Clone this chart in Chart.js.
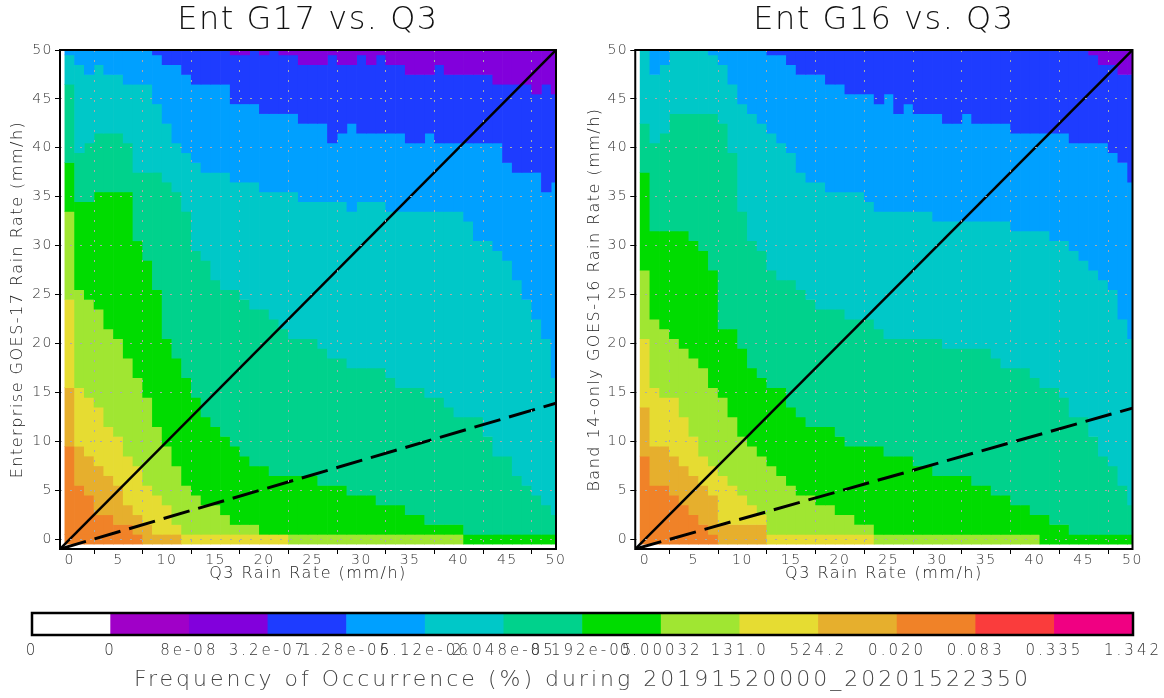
<!DOCTYPE html>
<html>
<head>
<meta charset="utf-8">
<script src="https://cdn.jsdelivr.net/npm/chart.js@4.4.1/dist/chart.umd.min.js"></script>
<style>
  body { margin: 0; background: #fff; }
  #wrap { position: relative; width: 1164px; height: 698px; overflow: hidden; }
  canvas { position: absolute; }
</style>
</head>
<body>
<div id="wrap">
  <canvas id="g17" width="590" height="600" style="left:0;top:0;width:590px;height:600px"></canvas>
  <canvas id="g16" width="584" height="600" style="left:580px;top:0;width:584px;height:600px"></canvas>
  <canvas id="cbar" width="1164" height="98" style="left:0;top:600px;width:1164px;height:98px"></canvas>
</div>
<script>
// colour levels of the shaded field (index = level)
const levelColors = ['#ffffff', '#a000c8', '#8200dc', '#1e3cff', '#00a0ff', '#00c8c8',
                     '#00d28c', '#00dc00', '#a0e632', '#e6dc32', '#e6af2d', '#f08228', '#fa3c3c', '#f00082'];
const colorbarLabels = ['0', '0', '8e-08', '3.2e-07', '1.28e-06', '5.12e-06', '2.048e-05', '8.192e-05',
                        '0.00032', '131.0', '524.2', '0.020', '0.083', '0.335', '1.342'];

const q3Bins = [0,1,2,3,4,5,6,7,8,9,10,11,12,13,14,15,16,17,18,19,20,21,22,23,24,25,
                26,27,28,29,30,31,32,33,34,35,36,37,38,39,40,41,42,43,44,45,46,47,48,49,50];
const axisTicks = [0, 5, 10, 15, 20, 25, 30, 35, 40, 45, 50];

// top row (mm/h) reached by each colour or any warmer one, per Q3 column (rows 1..50)
// --- Ent G17 ---
const g17BlueTop   = [50,50,50,50,50,50,50,50,50,50, 50,50,50,50,50,50,50,49,49,50, 49,50,49,49,48,48,48,49,48,48, 49,48,49,48,48,47,47,47,48,47, 47,47,47,47,46,46,46,46,45,46, 45];
const g17SkyTop    = [50,50,50,50,50,50,50,50,50,49, 48,48,47,46,46,46,46,44,44,44, 43,43,43,43,42,42,42,40,41,42, 41,41,41,41,41,40,40,41,40,40, 40,40,40,40,40,38,37,37,37,35, 36];
const g17CyanTop   = [49,48,47,48,47,47,46,46,46,44, 42,40,39,38,37,37,37,36,36,36, 35,35,35,35,34,34,34,34,34,33, 34,34,34,33,33,33,33,33,33,33, 33,32,30,30,29,28,26,24,22,20, 16];
const g17SeaTop    = [46,39,40,41,41,41,40,37,37,37, 36,35,33,29,28,26,25,25,24,23, 23,22,21,20,20,20,19,18,18,17, 17,17,17,16,15,15,15,14,14,13, 12,12,12,10,8,8,6,5,4,3, 2];
const g17GreenTop  = [38,34,34,35,35,35,35,30,28,25, 20,18,16,14,12,11,10,9,8,7, 7,6,6,6,6,6,5,5,5,4, 4,4,3,3,3,2,2,1,1,1, 1,0,0,0,0,0,0,0,0,0, 0];
const g17LimeTop   = [33,25,24,23,21,20,18,16,14,11, 9,7,5,4,3,3,2,1,1,1, 0,0,0,0,0,0,0,0,0,0, 0,0,0,0,0,0,0,0,0,0, 0,0,0,0,0,0,0,0,0,0, 0];
const g17YellowTop = [24,15,14,13,11,10,8,7,5,4, 3,1,0,0,0,0,0,0,0,0, 0,0,0,0,0,0,0,0,0,0, 0,0,0,0,0,0,0,0,0,0, 0,0,0,0,0,0,0,0,0,0, 0];
const g17GoldTop   = [15,9,8,7,6,5,3,2,1,0, 0,0,0,0,0,0,0,0,0,0, 0,0,0,0,0,0,0,0,0,0, 0,0,0,0,0,0,0,0,0,0, 0,0,0,0,0,0,0,0,0,0, 0];
const g17OrangeTop = [9,5,4,2,2,1,1,0,0,0, 0,0,0,0,0,0,0,0,0,0, 0,0,0,0,0,0,0,0,0,0, 0,0,0,0,0,0,0,0,0,0, 0,0,0,0,0,0,0,0,0,0, 0];
const g17ZeroRow   = [11,11,11,11,11,11,11,11,10,10, 10,10,9,9,9,9,9,9,9,9, 9,9,9,8,8,8,8,8,8,8, 8,8,8,8,8,8,8,8,8,8, 8,7,7,7,7,7,7,7,7,7, 7];

// --- Ent G16 ---
const g16BlueTop   = [50,50,50,50,50,50,50,50,50,50, 50,50,50,50,50,50,50,50,50,50, 50,50,50,50,50,50,50,50,50,50, 50,50,50,50,50,50,50,50,50,50, 50,50,50,50,50,50,49,48,48,47, 47];
const g16SkyTop    = [50,50,50,50,50,50,50,50,50,50, 50,50,50,49,49,48,47,47,47,46, 46,45,45,45,44,45,43,44,43,43, 43,42,42,43,42,42,42,42,41,41, 41,41,41,41,40,40,40,40,39,38, 36];
const g16CyanTop   = [50,47,48,50,50,50,50,49,48,46, 44,43,42,41,40,39,37,36,36,35, 35,35,35,34,33,33,33,33,33,33, 32,32,32,32,32,32,32,32,31,31, 31,31,30,30,29,28,27,26,25,22, 20];
const g16SeaTop    = [42,40,41,43,43,43,43,43,42,39, 33,30,29,27,26,26,25,24,23,23, 23,22,22,22,21,20,20,20,20,20, 20,19,19,19,19,19,18,17,17,17, 16,15,15,14,12,12,10,8,7,5, 3];
const g16GreenTop  = [37,31,31,31,31,30,29,27,21,21, 19,17,16,15,15,13,12,11,11,11, 10,9,9,9,9,8,8,8,7,7, 6,6,6,6,5,5,4,4,3,3, 2,2,1,1,0,0,0,0,0,0, 0];
const g16LimeTop   = [27,22,21,20,19,18,17,15,14,12, 10,9,8,7,6,5,4,4,3,3, 2,2,1,1,0,0,0,0,0,0, 0,0,0,0,0,0,0,0,0,0, 0,0,0,0,0,0,0,0,0,0, 0];
const g16YellowTop = [20,15,14,14,12,10,8,7,6,5, 4,3,2,0,0,0,0,0,0,0, 0,0,0,0,0,0,0,0,0,0, 0,0,0,0,0,0,0,0,0,0, 0,0,0,0,0,0,0,0,0,0, 0];
const g16GoldTop   = [13,9,9,8,7,6,5,4,1,1, 1,1,1,0,0,0,0,0,0,0, 0,0,0,0,0,0,0,0,0,0, 0,0,0,0,0,0,0,0,0,0, 0,0,0,0,0,0,0,0,0,0, 0];
const g16OrangeTop = [8,5,5,4,3,2,1,0,0,0, 0,0,0,0,0,0,0,0,0,0, 0,0,0,0,0,0,0,0,0,0, 0,0,0,0,0,0,0,0,0,0, 0,0,0,0,0,0,0,0,0,0, 0];
const g16ZeroRow   = [11,11,11,11,11,11,11,11,10,10, 10,10,10,9,9,9,9,9,9,9, 9,9,9,9,8,8,8,8,8,8, 8,8,8,8,8,8,8,8,8,8, 8,7,7,7,7,7,7,7,7,7, 7];

// reference lines
const lineX = [-1, 50];
const oneToOneY = [-1, 50];
const g17FitY = [-1, 13.9];
const g16FitY = [-1, 13.4];

Chart.defaults.font.family = "'DejaVu Sans', sans-serif";
Chart.defaults.font.weight = '300';
Chart.defaults.color = '#333';

const spacing = {
    id: 'spacing',
    beforeUpdate(chart, args, opts) { chart.ctx.letterSpacing = opts.px || '0px'; },
    beforeDraw(chart, args, opts) { chart.ctx.letterSpacing = opts.px || '0px'; }
};

const frame = {
    id: 'frame',
    afterDraw(chart, args, opts) {
        const {ctx, chartArea: a} = chart;
        ctx.save();
        ctx.strokeStyle = '#000';
        ctx.lineWidth = opts.width || 2;
        ctx.strokeRect(a.left, a.top, a.right - a.left, a.bottom - a.top);
        ctx.restore();
    }
};

function heatDatasets(tops, zeroRow) {
    const sets = [];
    // level 2 (violet) at the top down to level 11 (orange) near the origin
    for (let k = 2; k <= 11; k++) {
        const upper = k === 2 ? null : tops[k - 3];
        const lower = k === 11 ? null : tops[k - 2];
        const data = [];
        q3Bins.forEach((x, i) => {
            const hi = (upper ? upper[i] : 50) + 0.5;
            const lo = (lower ? lower[i] : 0) + 0.5;
            if (hi > lo) data.push({x: x, y: [lo, hi]});
        });
        sets.push({
            type: 'bar', data: data, backgroundColor: levelColors[k],
            borderWidth: 0, grouped: false, barPercentage: 1, categoryPercentage: 1, order: 2
        });
    }
    sets.push({
        type: 'bar',
        data: q3Bins.map(x => ({x: x, y: [-0.5, 0.5]})),
        backgroundColor: zeroRow.map(l => levelColors[l]),
        borderWidth: 0, grouped: false, barPercentage: 1, categoryPercentage: 1, order: 2
    });
    return sets;
}

function lineSet(ys, dash) {
    return {
        type: 'line',
        data: lineX.map((x, i) => ({x: x, y: ys[i]})),
        borderColor: '#000', borderWidth: dash ? 3 : 2.5, borderDash: dash || [],
        pointRadius: 0, fill: false, order: 0
    };
}

function heatChart(id, title, yTitle, tops, zeroRow, fitY, yWidth, rightPad, yTitlePad) {
    const ctx = document.getElementById(id);
    return new Chart(ctx, {
        type: 'bar',
        data: {
            datasets: [lineSet(oneToOneY), lineSet(fitY, [27, 9])].concat(heatDatasets(tops, zeroRow))
        },
        options: {
            responsive: false,
            animation: false,
            devicePixelRatio: 1,
            events: [],
            layout: { padding: { left: 0, right: rightPad, top: 0, bottom: 0 } },
            plugins: {
                legend: { display: false },
                tooltip: { enabled: false },
                spacing: { px: '1.5px' },
                frame: { width: 2 },
                title: {
                    display: true, text: title, fullSize: false, color: '#111',
                    font: { size: 32, weight: '300' },
                    padding: { top: 1, bottom: 10.6 }
                }
            },
            scales: {
                x: {
                    type: 'linear', min: -1, max: 50, offset: false,
                    afterBuildTicks: s => { s.ticks = axisTicks.map(v => ({value: v})); },
                    afterFit: s => { s.height = 51; },
                    grid: { z: 1, color: '#aaaaaa', lineWidth: 1, tickLength: 5, tickColor: '#000', tickWidth: 1 },
                    border: { display: false, dash: [2, 8] },
                    ticks: { autoSkip: false, maxRotation: 0, padding: -2, color: '#333', font: { size: 14 } },
                    title: {
                        display: true, text: 'Q3 Rain Rate (mm/h)', color: '#222',
                        font: { size: 16 }, padding: { top: 0, bottom: 17 }
                    }
                },
                y: {
                    type: 'linear', min: -1, max: 50,
                    afterBuildTicks: s => { s.ticks = axisTicks.map(v => ({value: v})); },
                    afterFit: s => { s.width = yWidth; },
                    grid: { z: 1, color: '#aaaaaa', lineWidth: 1, tickLength: 5, tickColor: '#000', tickWidth: 1 },
                    border: { display: false, dash: [2, 8] },
                    ticks: { autoSkip: false, padding: 2, color: '#333', font: { size: 14 } },
                    title: {
                        display: true, text: yTitle, color: '#222',
                        font: { size: 16 }, padding: { top: yTitlePad, bottom: 0 }
                    }
                }
            }
        },
        plugins: [spacing, frame]
    });
}

heatChart('g17', 'Ent G17 vs. Q3', 'Enterprise GOES-17 Rain Rate (mm/h)',
    [g17BlueTop, g17SkyTop, g17CyanTop, g17SeaTop, g17GreenTop, g17LimeTop, g17YellowTop, g17GoldTop, g17OrangeTop],
    g17ZeroRow, g17FitY, 60, 34, 8);

heatChart('g16', 'Ent G16 vs. Q3', 'Band 14-only GOES-16 Rain Rate (mm/h)',
    [g16BlueTop, g16SkyTop, g16CyanTop, g16SeaTop, g16GreenTop, g16LimeTop, g16YellowTop, g16GoldTop, g16OrangeTop],
    g16ZeroRow, g16FitY, 55.25, 31.5, 5);

// colour bar
new Chart(document.getElementById('cbar'), {
    type: 'bar',
    data: {
        datasets: [{
            data: levelColors.map((c, i) => ({x: i + 0.5, y: [0, 1]})),
            backgroundColor: levelColors,
            borderWidth: 0, barPercentage: 1, categoryPercentage: 1
        }]
    },
    options: {
        responsive: false,
        animation: false,
        devicePixelRatio: 1,
        events: [],
        layout: { padding: { left: 32, right: 31, top: 13, bottom: 0 } },
        plugins: {
            legend: { display: false },
            tooltip: { enabled: false },
            spacing: { px: '3px' },
            frame: { width: 2.5 }
        },
        scales: {
            x: {
                type: 'linear', min: 0, max: 14, offset: false,
                afterBuildTicks: s => { s.ticks = colorbarLabels.map((t, i) => ({value: i})); },
                afterFit: s => { s.height = 63; },
                grid: { display: false },
                border: { display: false },
                ticks: {
                    autoSkip: false, maxRotation: 0, padding: -1, color: '#333', font: { size: 15 },
                    callback: (v, i) => colorbarLabels[i]
                },
                title: {
                    display: true, text: 'Frequency of Occurrence (%) during 20191520000_20201522350',
                    color: '#444', font: { size: 22 }, padding: { top: 0, bottom: 5 }
                }
            },
            y: { display: false, min: 0, max: 1 }
        }
    },
    plugins: [spacing, frame]
});
</script>
</body>
</html>
